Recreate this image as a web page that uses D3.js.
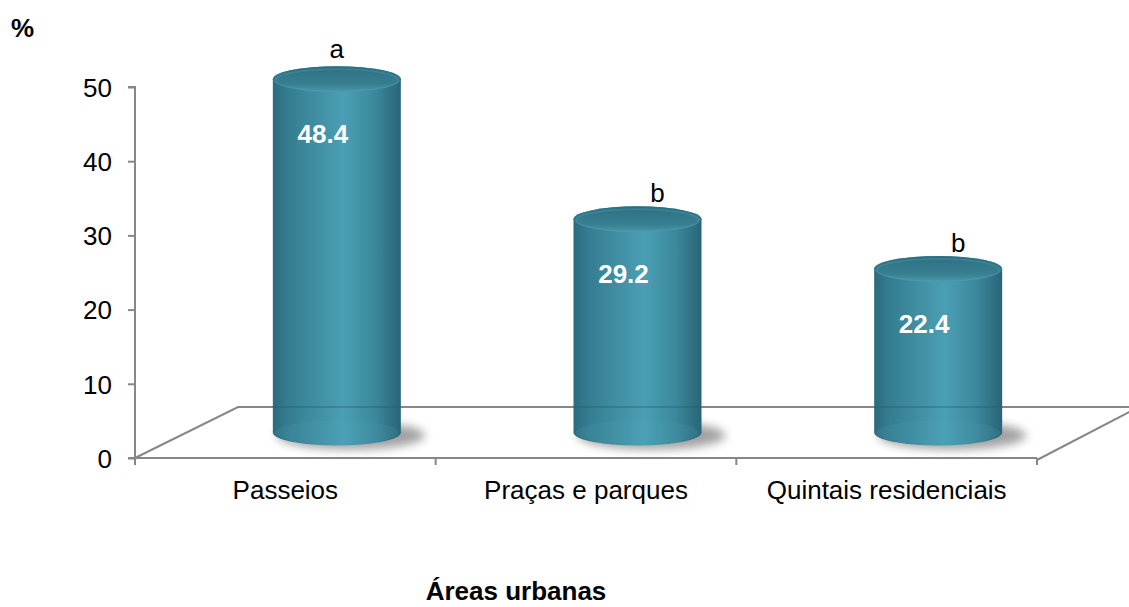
<!DOCTYPE html>
<html><head><meta charset="utf-8">
<script src="https://cdn.jsdelivr.net/npm/d3@7"></script>
<style>body{margin:0;background:#fff}svg{display:block;font-family:"Liberation Sans",Arial,sans-serif}</style>
</head><body><svg id="c" width="1129" height="607"></svg>
<script>
const categories = ["Passeios", "Praças e parques", "Quintais residenciais"];
const values = [48.4, 29.2, 22.4];
const letters = ["a", "b", "b"];
const yTicks = [0, 10, 20, 30, 40, 50];

const svg = d3.select("#c");
const x0 = 135, x1 = 1037, yBase = 458;
const depthX = 103, depthY = -51;
const FS = 26;
const x = d3.scaleBand().domain(categories).range([x0, x1]);
const y = d3.scaleLinear().domain([0, 50]).range([yBase, 87]);
const yBar = d3.scaleLinear().domain([0, 50]).range([yBase + depthY/2, yBase + depthY/2 - 50 * 7.3]);

const defs = svg.append("defs");
const g1 = defs.append("linearGradient").attr("id", "body").attr("x1", "0").attr("x2", "1");
[[0, "#2b6b7d"], [0.12, "#357d90"], [0.55, "#4a9fb4"], [0.8, "#3b889c"], [1, "#296476"]].forEach(s => g1.append("stop").attr("offset", s[0]).attr("stop-color", s[1]));
const g2 = defs.append("linearGradient").attr("id", "top").attr("x1", "0").attr("x2", "0").attr("y1", "0").attr("y2", "1");
[[0, "#2e6f82"], [0.7, "#387f92"], [1, "#4b98ab"]].forEach(s => g2.append("stop").attr("offset", s[0]).attr("stop-color", s[1]));
defs.append("filter").attr("id", "blur").attr("x", "-30%").attr("y", "-80%").attr("width", "160%").attr("height", "260%")
  .append("feGaussianBlur").attr("stdDeviation", 5);

const axisColor = "#878787";
// floor
svg.append("path")
  .attr("d", `M${x0},${yBase} L${x0 + depthX},${yBase + depthY} L1129,${yBase + depthY}`)
  .attr("fill", "none").attr("stroke", axisColor).attr("stroke-width", 2);
svg.append("path")
  .attr("d", `M${x1},${yBase + 2} L${x1 + 94},${yBase + depthY + 4}`)
  .attr("fill", "none").attr("stroke", axisColor).attr("stroke-width", 2);

// y axis
const yAxis = svg.append("g").attr("transform", `translate(${x0},0)`)
  .call(d3.axisLeft(y).tickValues(yTicks).tickSize(7).tickPadding(16));
yAxis.select(".domain").attr("stroke", axisColor).attr("stroke-width", 2).attr("d", `M-7,87H0V${yBase}H-7`);
yAxis.selectAll(".tick line").attr("stroke", axisColor).attr("stroke-width", 2);
yAxis.selectAll(".tick text").attr("font-size", FS).attr("fill", "#000").attr("font-family", "Liberation Sans, Arial, sans-serif").attr("dy", "0.36em");

// x axis
const xAxis = svg.append("g").attr("transform", `translate(0,${yBase})`)
  .call(d3.axisBottom(x).tickSize(0));
xAxis.select(".domain").remove();
xAxis.selectAll(".tick text").attr("font-size", FS).attr("fill", "#000").attr("font-family", "Liberation Sans, Arial, sans-serif")
  .attr("dy", null).attr("y", 41);
svg.append("line").attr("x1", x0).attr("x2", x1).attr("y1", yBase).attr("y2", yBase).attr("stroke", axisColor).attr("stroke-width", 2);
const bounds = [x0].concat(categories.map(c => x(c) + x.bandwidth()));
svg.selectAll(".xt").data(bounds).join("line").attr("class", "xt")
  .attr("x1", d => d).attr("x2", d => d).attr("y1", yBase).attr("y2", yBase + 7)
  .attr("stroke", axisColor).attr("stroke-width", 2);

// cylinders
const rx = 64, ry = 13;
const data = categories.map((c, i) => ({ c, v: values[i], l: letters[i] }));
const bars = svg.selectAll(".bar").data(data).join("g").attr("class", "bar");
const cx = d => x(d.c) + x.bandwidth() / 2 + depthX / 2;
bars.append("ellipse").attr("cx", d => cx(d) + 14).attr("cy", yBar(0) + 3).attr("rx", rx + 10).attr("ry", ry + 1)
  .attr("fill", "#555").attr("opacity", 0.55).attr("filter", "url(#blur)");
bars.append("path")
  .attr("d", d => {
    const c = cx(d), yt = yBar(d.v), yb = yBar(0);
    return `M${c - rx},${yt} L${c - rx},${yb} A${rx},${ry} 0 0 0 ${c + rx},${yb} L${c + rx},${yt} A${rx},${ry} 0 0 0 ${c - rx},${yt} Z`;
  })
  .attr("fill", "url(#body)");
bars.append("ellipse").attr("cx", d => cx(d)).attr("cy", yBar(0)).attr("rx", rx - 2).attr("ry", ry - 1)
  .attr("fill", "#5aaabd").attr("opacity", 0.15);
// back floor line seen through cylinder
bars.append("line").attr("x1", d => cx(d) - rx).attr("x2", d => cx(d) + rx)
  .attr("y1", yBase + depthY).attr("y2", yBase + depthY).attr("stroke", "#2a5a66").attr("stroke-width", 2).attr("opacity", 0.35);
bars.append("ellipse").attr("cx", d => cx(d)).attr("cy", d => yBar(d.v)).attr("rx", rx).attr("ry", ry)
  .attr("fill", "url(#top)");
bars.append("ellipse").attr("cx", d => cx(d)).attr("cy", d => yBar(d.v) + 1).attr("rx", rx - 3).attr("ry", ry - 2)
  .attr("fill", "none").attr("stroke", "#5aa5b8").attr("stroke-width", 1.5).attr("opacity", 0.3);

bars.append("text").attr("x", d => cx(d) - 14).attr("y", d => yBar(d.v) + 64)
  .attr("text-anchor", "middle").attr("font-size", FS).attr("font-weight", "bold").attr("fill", "#fff")
  .text(d => d.v.toFixed(1));
bars.append("text").attr("x", (d, i) => cx(d) + (i === 0 ? 0 : 20)).attr("y", (d, i) => yBar(d.v) - (i === 0 ? 21 : 17))
  .attr("text-anchor", "middle").attr("font-size", FS).attr("fill", "#000")
  .text(d => d.l);

svg.append("text").attr("x", 11).attr("y", 37).attr("font-size", FS).attr("font-weight", "bold").text("%");
svg.append("text").attr("x", 516).attr("y", 600).attr("text-anchor", "middle").attr("font-size", FS).attr("font-weight", "bold").text("Áreas urbanas");
</script></body></html>
